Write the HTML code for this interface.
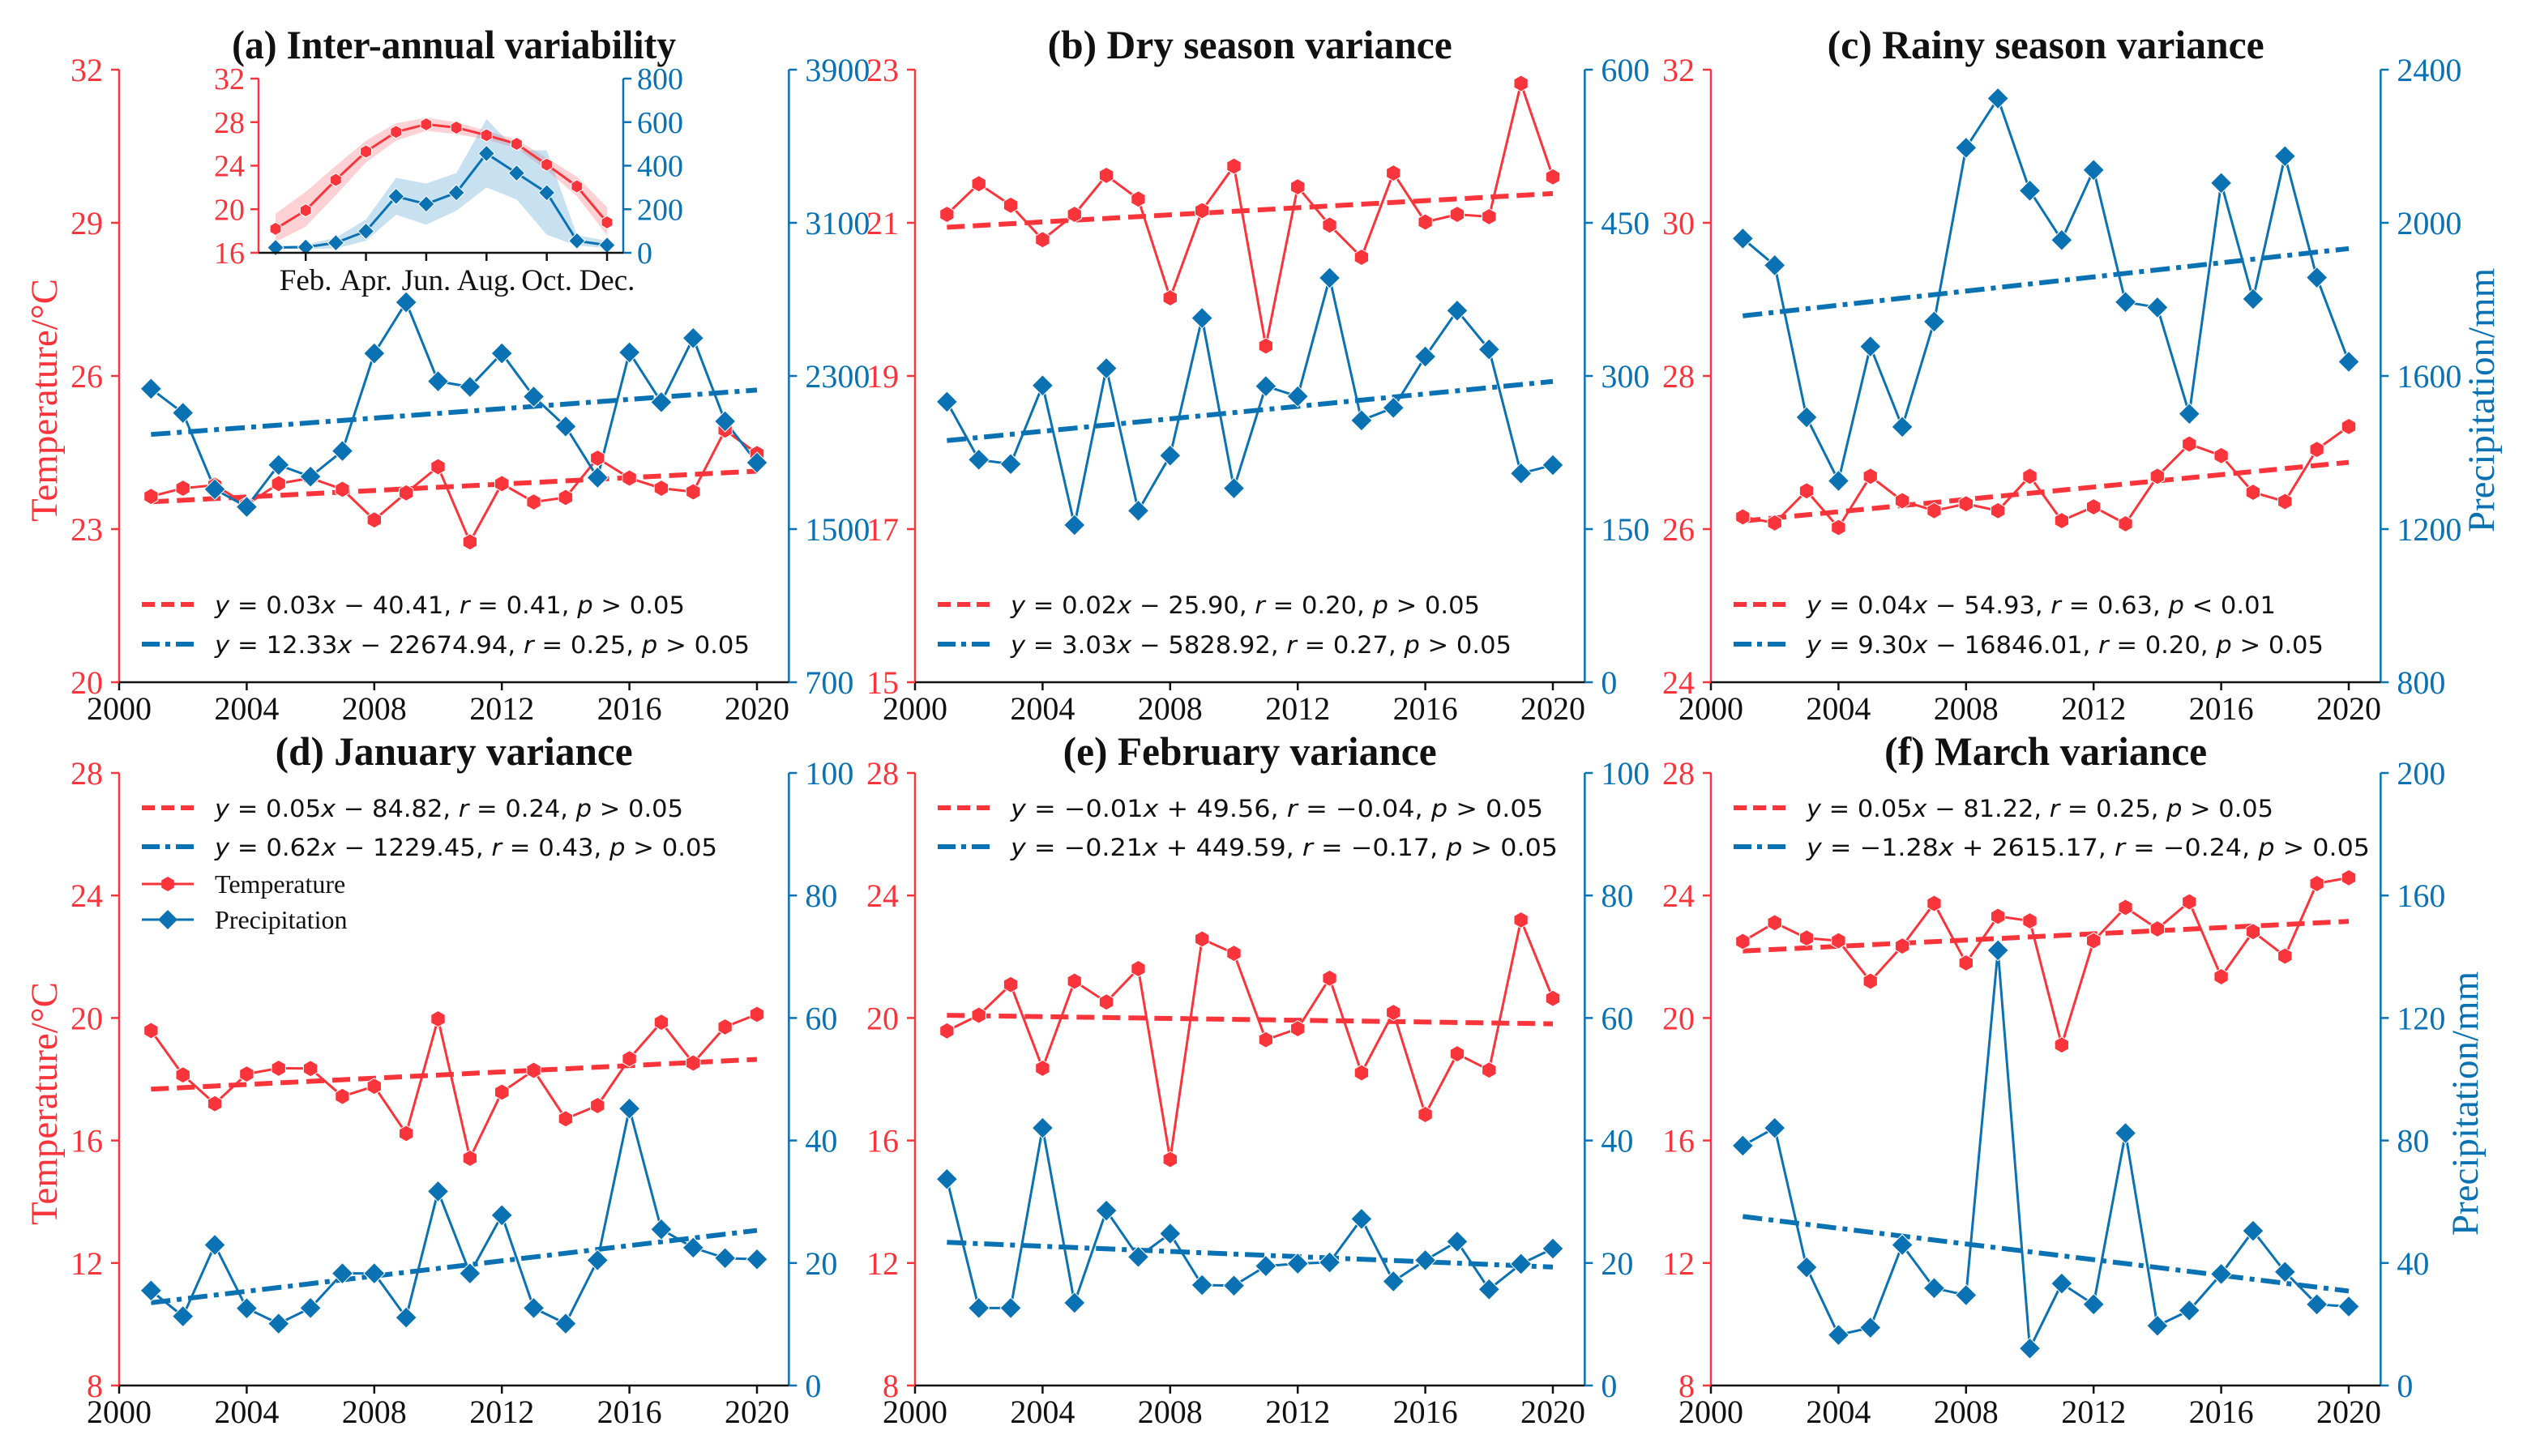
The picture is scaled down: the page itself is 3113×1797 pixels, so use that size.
<!DOCTYPE html>
<html><head><meta charset="utf-8">
<style>
html,body{margin:0;padding:0;background:#fff;}
svg{display:block;}
text{font-family:"Liberation Serif","Times New Roman",serif;}
.m{font-family:"DejaVu Sans",sans-serif;}
</style></head>
<body>
<svg id="chart" xmlns="http://www.w3.org/2000/svg" width="3113" height="1797" viewBox="0 0 3113 1797"></svg>
<script>
const RED = '#f9343b', BLUE = '#0a72b3';
const years = [2001,2002,2003,2004,2005,2006,2007,2008,2009,2010,2011,2012,2013,2014,2015,2016,2017,2018,2019,2020];
// panel (a)
const tempA = [23.64,23.80,23.86,23.48,23.89,24.0,23.78,23.18,23.71,24.22,22.75,23.89,23.53,23.62,24.39,24.0,23.80,23.73,24.94,24.48];
const precA = [2233,2107,1708,1616,1835,1774,1908,2418,2685,2272,2243,2418,2192,2036,1769,2423,2163,2498,2063,1847];
// panel (b)
const tempB = [21.11,21.51,21.23,20.78,21.11,21.62,21.31,20.02,21.16,21.74,19.39,21.47,20.97,20.55,21.65,21.01,21.11,21.08,22.82,21.60];
const precB = [274.7,218,213.7,290.7,154,307.5,168,222,356.7,190,290,280,396,256.5,268.8,319,364,326,204.5,212.7];
// panel (c)
const tempC = [26.16,26.08,26.50,26.02,26.69,26.37,26.24,26.33,26.24,26.69,26.11,26.29,26.07,26.69,27.11,26.96,26.48,26.36,27.04,27.34];
const precC = [1959,1889,1492,1326,1677,1467,1742,2196,2325,2084,1955,2138,1793,1779,1501,2104,1801,2174,1857,1637];
// panel (d)
const tempD = [19.59,18.14,17.20,18.17,18.36,18.35,17.44,17.77,16.23,19.97,15.42,17.58,18.29,16.71,17.14,18.67,19.86,18.53,19.71,20.12];
const precD = [15.5,11.3,22.95,12.6,10.1,12.65,18.3,18.3,11.1,31.7,18.3,27.8,12.65,10.1,20.45,45.2,25.5,22.5,20.8,20.6];
// panel (e)
const tempE = [19.58,20.09,21.09,18.36,21.20,20.52,21.61,15.38,22.58,22.11,19.29,19.65,21.30,18.21,20.18,16.85,18.83,18.30,23.20,20.64];
const precE = [33.7,12.65,12.65,42.05,13.5,28.56,21.0,24.8,16.4,16.3,19.5,19.9,20.1,27.2,17.0,20.45,23.5,15.7,19.85,22.35];
// panel (f)
const tempF = [22.50,23.11,22.61,22.52,21.20,22.35,23.74,21.80,23.32,23.17,19.12,22.52,23.61,22.91,23.79,21.35,22.82,22.02,24.39,24.58];
const precF = [78.3,84.1,38.6,16.5,18.9,45.9,31.8,29.5,142.1,12.1,33.3,26.5,82.4,19.5,24.5,36.4,50.5,37.1,26.5,25.8];
// inset (monthly climatology)
const months = [1,2,3,4,5,6,7,8,9,10,11,12];
const monthTickLabels = ['Feb.','Apr.','Jun.','Aug.','Oct.','Dec.'];
const monthTicks = [2,4,6,8,10,12];
const insetTemp = [18.2,19.9,22.7,25.3,27.1,27.8,27.5,26.8,26.0,24.1,22.1,18.8];
const insetTempHi = [19.6,21.6,24.0,26.3,27.9,28.4,28.0,27.2,26.4,24.7,23.0,20.2];
const insetTempLo = [17.0,18.4,21.3,24.3,26.3,27.2,26.9,26.4,25.6,23.6,21.2,17.6];
const insetPrec = [24,26,46,99,259,224,276,456,366,276,55,35];
const insetPrecHi = [30,36,70,153,344,318,366,614,470,471,81,55];
const insetPrecLo = [18,18,20,55,175,129,193,300,245,83,33,22];
const insetTempTicks = [16,20,24,28,32];
const insetPrecTicks = [0,200,400,600,800];

const legends = {
 a:[['y','=','0.03','x','−','40.41',',','r','=','0.41',',','p','>','0.05'],['y','=','12.33','x','−','22674.94',',','r','=','0.25',',','p','>','0.05']],
 b:[['y','=','0.02','x','−','25.90',',','r','=','0.20',',','p','>','0.05'],['y','=','3.03','x','−','5828.92',',','r','=','0.27',',','p','>','0.05']],
 c:[['y','=','0.04','x','−','54.93',',','r','=','0.63',',','p','<','0.01'],['y','=','9.30','x','−','16846.01',',','r','=','0.20',',','p','>','0.05']],
 d:[['y','=','0.05','x','−','84.82',',','r','=','0.24',',','p','>','0.05'],['y','=','0.62','x','−','1229.45',',','r','=','0.43',',','p','>','0.05']],
 e:[['y','=','−0.01','x','+','49.56',',','r','=','−0.04',',','p','>','0.05'],['y','=','−0.21','x','+','449.59',',','r','=','−0.17',',','p','>','0.05']],
 f:[['y','=','0.05','x','−','81.22',',','r','=','0.25',',','p','>','0.05'],['y','=','−1.28','x','+','2615.17',',','r','=','−0.24',',','p','>','0.05']]
};

const svg = document.getElementById('chart');
const NS = 'http://www.w3.org/2000/svg';
function mk(tag, attrs, parent, txt){
  const e = document.createElementNS(NS, tag);
  for (const k in attrs) e.setAttribute(k, attrs[k]);
  if (txt !== undefined) e.textContent = txt;
  (parent||svg).appendChild(e);
  return e;
}
function hexPts(cx, cy, r){
  let p=[]; for(let i=0;i<6;i++){const a=Math.PI/180*(60*i-90); p.push((cx+r*Math.cos(a)).toFixed(1)+','+(cy+r*Math.sin(a)).toFixed(1));} return p.join(' ');
}
function diaPts(cx, cy, r){ return `${cx},${cy-r} ${cx+r},${cy} ${cx},${cy+r} ${cx-r},${cy}`; }
function fit(xs, ys){
  const n=xs.length; let mx=0,my=0; for(let i=0;i<n;i++){mx+=xs[i];my+=ys[i];} mx/=n; my/=n;
  let sxy=0,sxx=0; for(let i=0;i<n;i++){sxy+=(xs[i]-mx)*(ys[i]-my); sxx+=(xs[i]-mx)**2;}
  const b=sxy/sxx; return [b, my-b*mx];
}

const panels = [
 {id:'a', title:'(a) Inter-annual variability', tw:548, x0:147, row:0, t:tempA, p:precA, tr:[20,32], tt:[20,23,26,29,32], pr:[700,3900], pt:[700,1500,2300,3100,3900], leg:'bottom', ylabL:true},
 {id:'b', title:'(b) Dry season variance', tw:499, x0:1129, row:0, t:tempB, p:precB, tr:[15,23], tt:[15,17,19,21,23], pr:[0,600], pt:[0,150,300,450,600], leg:'bottom'},
 {id:'c', title:'(c) Rainy season variance', tw:539, x0:2111, row:0, t:tempC, p:precC, tr:[24,32], tt:[24,26,28,30,32], pr:[800,2400], pt:[800,1200,1600,2000,2400], leg:'bottom', ylabR:3061},
 {id:'d', title:'(d) January variance', tw:441, x0:147, row:1, t:tempD, p:precD, tr:[8,28], tt:[8,12,16,20,24,28], pr:[0,100], pt:[0,20,40,60,80,100], leg:'top', ylabL:true, extra:true},
 {id:'e', title:'(e) February variance', tw:461, x0:1129, row:1, t:tempE, p:precE, tr:[8,28], tt:[8,12,16,20,24,28], pr:[0,100], pt:[0,20,40,60,80,100], leg:'top'},
 {id:'f', title:'(f) March variance', tw:398, x0:2111, row:1, t:tempF, p:precF, tr:[8,28], tt:[8,12,16,20,24,28], pr:[0,200], pt:[0,40,80,120,160,200], leg:'top', ylabR:3041}
];
const legW = {a:[580,660],b:[579,618],c:[579,638],d:[578,620],e:[657,675],f:[576,695]};
const ROWS = [[86,842],[954,1710]];
const PXY = 39.35;
const xTicks = [2000,2004,2008,2012,2016,2020];

panels.forEach(P=>{
  const g = mk('g',{});
  
  
  const [yT,yB] = ROWS[P.row];
  const X = v => P.x0 + (v-2000)*PXY;
  const YT = v => yB - (v-P.tr[0])/(P.tr[1]-P.tr[0])*(yB-yT);
  const YP = v => yB - (v-P.pr[0])/(P.pr[1]-P.pr[0])*(yB-yT);
  const xR = X(2021);
  // title
  const ti = mk('text',{x:(P.x0+xR)/2, y:yT-(P.row?10:14), 'text-anchor':'middle', 'font-size':50, 'font-weight':'bold', fill:'#111', textLength:P.tw, lengthAdjust:'spacingAndGlyphs'}, g, P.title);
  
  
  // spines
  const ls = mk('line',{x1:P.x0,y1:yT,x2:P.x0,y2:yB,stroke:RED,'stroke-width':2.5},g);
  
  
  const rs = mk('line',{x1:xR,y1:yT,x2:xR,y2:yB,stroke:BLUE,'stroke-width':2.5},g);
  
  
  const bs = mk('line',{x1:P.x0,y1:yB,x2:xR,y2:yB,stroke:'#111','stroke-width':2.5},g);
  
  
  // x ticks
  xTicks.forEach(v=>{
    mk('line',{x1:X(v),y1:yB,x2:X(v),y2:yB+10,stroke:'#111','stroke-width':2.5},g);
    const t = mk('text',{x:X(v),y:yB+46,'text-anchor':'middle','font-size':40,fill:'#111'},g,String(v));
    
    
  });
  P.tt.forEach(v=>{
    mk('line',{x1:P.x0-10,y1:YT(v),x2:P.x0,y2:YT(v),stroke:RED,'stroke-width':2.5},g);
    const t = mk('text',{x:P.x0-20,y:YT(v)+14,'text-anchor':'end','font-size':40,fill:RED},g,String(v));
    
    
  });
  P.pt.forEach(v=>{
    mk('line',{x1:xR,y1:YP(v),x2:xR+10,y2:YP(v),stroke:BLUE,'stroke-width':2.5},g);
    const t = mk('text',{x:xR+20,y:YP(v)+14,'text-anchor':'start','font-size':40,fill:BLUE},g,String(v));
    
    
  });
  if (P.ylabL){
    const cy=(yT+yB)/2+30;
    const t = mk('text',{x:0,y:0,transform:`translate(70,${cy}) rotate(-90)`,'text-anchor':'middle','font-size':47,fill:RED},g,'Temperature/°C');
    
    
  }
  if (P.ylabR){
    const cy=(yT+yB)/2+30;
    const t = mk('text',{x:0,y:0,transform:`translate(${P.ylabR+16},${cy}) rotate(-90)`,'text-anchor':'middle','font-size':47,fill:BLUE},g,'Precipitation/mm');
    
    
  }
  // trends
  const [bt,at] = fit(years,P.t), [bp,ap] = fit(years,P.p);
  const tl = mk('line',{x1:X(2001),y1:YT(at+bt*2001),x2:X(2020),y2:YT(at+bt*2020),stroke:RED,'stroke-width':6,'stroke-dasharray':'22,10'},g);
  
  
  const pl = mk('line',{x1:X(2001),y1:YP(ap+bp*2001),x2:X(2020),y2:YP(ap+bp*2020),stroke:BLUE,'stroke-width':6,'stroke-dasharray':'24,8,6,8'},g);
  
  
  // series lines
  const tp = mk('polyline',{points:years.map((y,i)=>X(y)+','+YT(P.t[i])).join(' '),fill:'none',stroke:RED,'stroke-width':3},g);
  
  
  const pp = mk('polyline',{points:years.map((y,i)=>X(y)+','+YP(P.p[i])).join(' '),fill:'none',stroke:BLUE,'stroke-width':3},g);
  
  
  years.forEach((y,i)=>{
    const h = mk('polygon',{points:hexPts(X(y),YT(P.t[i]),10),fill:RED,stroke:'#fff','stroke-width':1},g);
    
    
  });
  years.forEach((y,i)=>{
    const d = mk('polygon',{points:diaPts(X(y),YP(P.p[i]),13),fill:BLUE,stroke:'#fff','stroke-width':1},g);
    
    
  });
  // legend
  const ly = P.leg==='bottom' ? [746,795] : [yT+43,yT+91];
  [0,1].forEach(k=>{
    const col = k?BLUE:RED;
    const s = mk('line',{x1:P.x0+28,y1:ly[k],x2:P.x0+92,y2:ly[k],stroke:col,'stroke-width':6,'stroke-dasharray':k?'22,7,6,7':'16,8'},g);
    
    
    const t = mk('text',{x:P.x0+118,y:ly[k]+11,'font-size':29,fill:'#111',class:'m',textLength:legW[P.id][k],lengthAdjust:'spacingAndGlyphs'},g);
    
    
    legends[P.id][k].forEach((tok,j)=>{
      const it = (tok==='y'||tok==='x'||tok==='r'||tok==='p');
      let str = tok;
      if (tok==='='||tok==='−'||tok==='+'||tok==='<'||tok==='>') str=' '+tok+' ';
      if (tok===',') str=',  ';
      if (tok==='x') str='x';
      mk('tspan',{'font-style':it?'italic':'normal'},t,str);
    });
  });
  if (P.extra){
    const e1 = mk('g',{},g);
    
    
    mk('line',{x1:P.x0+28,y1:1091,x2:P.x0+92,y2:1091,stroke:RED,'stroke-width':3},e1);
    mk('polygon',{points:hexPts(P.x0+60,1091,9),fill:RED},e1);
    mk('text',{x:P.x0+118,y:1102,'font-size':32,fill:'#111'},e1,'Temperature');
    const e2 = mk('g',{},g);
    
    
    mk('line',{x1:P.x0+28,y1:1135,x2:P.x0+92,y2:1135,stroke:BLUE,'stroke-width':3},e2);
    mk('polygon',{points:diaPts(P.x0+60,1135,12),fill:BLUE},e2);
    mk('text',{x:P.x0+118,y:1146,'font-size':32,fill:'#111'},e2,'Precipitation');
  }
});

// inset
(function(){
  const g = mk('g',{});
  
  
  const L=319, R=769, T=97, B=312;
  const MX = m => 340 + (m-1)*(749-340)/11;
  const YT = v => B - (v-16)/16*(B-T);
  const YP = v => B - v/800*(B-T);
  mk('rect',{x:L,y:T,width:R-L,height:B-T,fill:'#fff'},g);
  const bandT = months.map(m=>MX(m)+','+YT(insetTempHi[m-1])).concat(months.slice().reverse().map(m=>MX(m)+','+YT(insetTempLo[m-1]))).join(' ');
  const bt = mk('polygon',{points:bandT,fill:RED,'fill-opacity':0.22},g);
  
  
  const bandP = months.map(m=>MX(m)+','+YP(insetPrecHi[m-1])).concat(months.slice().reverse().map(m=>MX(m)+','+YP(insetPrecLo[m-1]))).join(' ');
  const bp = mk('polygon',{points:bandP,fill:'#4a9bd0','fill-opacity':0.3},g);
  
  
  const lt = mk('polyline',{points:months.map(m=>MX(m)+','+YT(insetTemp[m-1])).join(' '),fill:'none',stroke:RED,'stroke-width':3},g);
  
  
  const lp = mk('polyline',{points:months.map(m=>MX(m)+','+YP(insetPrec[m-1])).join(' '),fill:'none',stroke:BLUE,'stroke-width':3},g);
  
  
  months.forEach(m=>{
    const h = mk('polygon',{points:hexPts(MX(m),YT(insetTemp[m-1]),8),fill:RED,stroke:'#fff','stroke-width':1},g);
    
    
  });
  months.forEach(m=>{
    const d = mk('polygon',{points:diaPts(MX(m),YP(insetPrec[m-1]),10),fill:BLUE,stroke:'#fff','stroke-width':1},g);
    
    
  });
  mk('line',{x1:L,y1:T,x2:L,y2:B,stroke:RED,'stroke-width':2.5},g);
  mk('line',{x1:R,y1:T,x2:R,y2:B,stroke:BLUE,'stroke-width':2.5},g);
  mk('line',{x1:L,y1:B,x2:R,y2:B,stroke:'#111','stroke-width':2.5},g);
  insetTempTicks.forEach(v=>{
    mk('line',{x1:L-10,y1:YT(v),x2:L,y2:YT(v),stroke:RED,'stroke-width':2.5},g);
    const t = mk('text',{x:L-17,y:YT(v)+13,'text-anchor':'end','font-size':38,fill:RED},g,String(v));
    
    
  });
  insetPrecTicks.forEach(v=>{
    mk('line',{x1:R,y1:YP(v),x2:R+10,y2:YP(v),stroke:BLUE,'stroke-width':2.5},g);
    const t = mk('text',{x:R+17,y:YP(v)+13,'text-anchor':'start','font-size':38,fill:BLUE},g,String(v));
    
    
  });
  monthTicks.forEach((m,i)=>{
    mk('line',{x1:MX(m),y1:B,x2:MX(m),y2:B+10,stroke:'#111','stroke-width':2.5},g);
    const t = mk('text',{x:MX(m),y:358,'text-anchor':'middle','font-size':37,fill:'#111'},g,monthTickLabels[i]);
    
    
  });
})();
</script>
</body></html>
